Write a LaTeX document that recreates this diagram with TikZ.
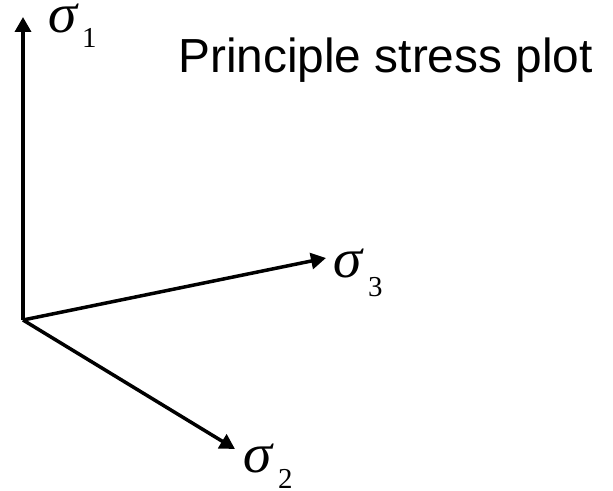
\documentclass[tikz,border=0pt]{standalone}
\usepackage{fontspec}
\setmainfont{Liberation Serif}
\newfontfamily\arialfont{Liberation Sans}
\newfontfamily\sigfont[FakeSlant=0.12]{Liberation Serif}
\usetikzlibrary{arrows.meta}
\tikzset{
  axis/.style={line width=3.5bp, -{Triangle[length=15bp,width=16bp]}},
  sig/.style={inner sep=0pt, anchor=base west, font=\sigfont\fontsize{56}{56}\selectfont},
  sub/.style={inner sep=0pt, anchor=base west, font=\fontsize{29}{29}\selectfont},
}
\begin{document}
\begin{tikzpicture}[x=1bp,y=-1bp]
\useasboundingbox (0,0) rectangle (613,491);
\coordinate (O) at (23,320);
\coordinate (T1) at (23,17);
\coordinate (T3) at (326,258);
\coordinate (T2) at (235,449);
\draw[axis] (O) -- (T1);
\draw[axis] (O) -- (T3);
\draw[axis] (O) -- (T2);
\node[sig] (s1) at (46,33) {σ};
\node[sub] (n1) at (82,48) {1};
\node[sig] (s3) at (331,277) {σ};
\node[sub] (n3) at (368,296) {3};
\node[sig] (s2) at (241,472) {σ};
\node[sub] (n2) at (278,488) {2};
\node[inner sep=0pt, anchor=base west, font=\arialfont\fontsize{48}{48}\selectfont] (title) at (178,73) {Principle stress plot};
\end{tikzpicture}
\end{document}
